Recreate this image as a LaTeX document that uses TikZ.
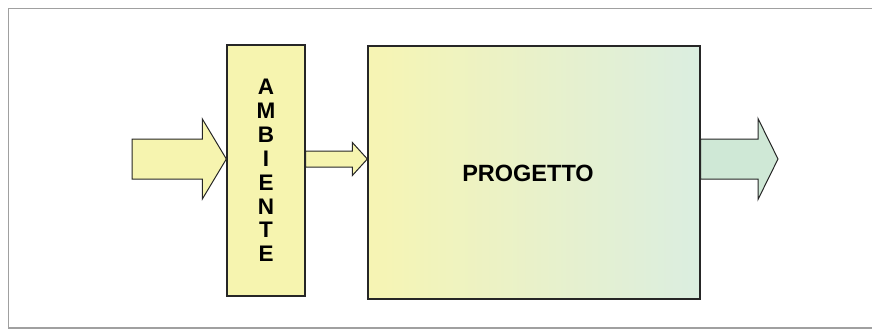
\documentclass[tikz,border=0pt]{standalone}
\usepackage{fontspec}
\setmainfont{Liberation Sans}
\usetikzlibrary{calc,shadows}
\definecolor{geel}{HTML}{F6F4AF}
\definecolor{groen}{HTML}{CFE8D6}
\definecolor{randgrijs}{HTML}{A0A0A0}
\tikzset{
  blok/.style={draw=black!85, line width=1.3pt, inner sep=0pt,
    drop shadow={shadow xshift=1.2pt, shadow yshift=-1.2pt, fill=black!35, opacity=1}},
  pijl/.style={draw=black!85, line width=1pt, line join=miter},
}
% dikke pijl: start, punt, halve schachtbreedte, halve kopbreedte, koplengte, kleur
\newcommand{\dikkepijl}[6]{%
  \draw[pijl, fill=#6] ($(#1)+(0,#3)$) -- ($(#2)+(-#5,#3)$) -- ($(#2)+(-#5,#4)$)
    -- (#2) -- ($(#2)+(-#5,-#4)$) -- ($(#2)+(-#5,-#3)$) -- ($(#1)+(0,-#3)$) -- cycle;}
\begin{document}
\begin{tikzpicture}[x=1pt, y=-1pt]
\useasboundingbox (0,0) rectangle (872,329);
% Kader (rechts open)
\draw[randgrijs, line width=1.6pt] (890,8.5) -- (8.5,8.5) -- (8.5,328) -- (890,328);

% Ambiente
\node[blok, fill=geel, minimum width=78pt, minimum height=251pt,
  align=center, font=\bfseries\fontsize{22.5}{23.9}\selectfont]
  (ambiente) at (266,170.5) {A\\M\\B\\I\\E\\N\\T\\E};

% Progetto (kleurverloop geel naar groen)
\node[blok, left color=geel!95!white, right color=groen!75!white,
  minimum width=332pt, minimum height=253pt]
  (progetto) at (534,172.5) {};
\node[font=\bfseries\fontsize{23.5}{25}\selectfont] (titel)
  at ([xshift=-6pt,yshift=-1pt]progetto.center) {PROGETTO};

% Pijlen
\coordinate (in) at (132,159);
\coordinate (uit) at (778,159);
\dikkepijl{in}{ambiente.west |- in}{20}{40}{24}{geel}
\dikkepijl{ambiente.east |- in}{progetto.west |- in}{8}{16.5}{15}{geel}
\dikkepijl{progetto.east |- in}{uit}{20}{40.5}{20}{groen}
\end{tikzpicture}
\end{document}
